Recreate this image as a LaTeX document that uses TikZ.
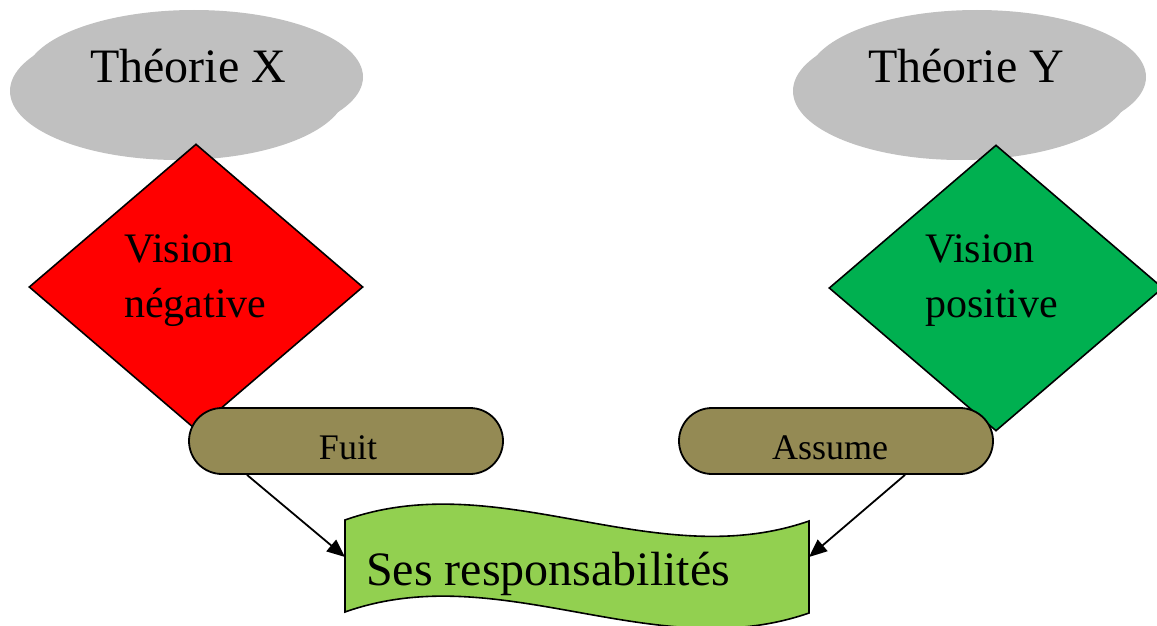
\documentclass[tikz,border=0pt]{standalone}
\usepackage{fontspec}
\setmainfont{Liberation Serif}
\usetikzlibrary{shapes.geometric,shapes.misc,arrows.meta,calc}
\definecolor{cloudgray}{HTML}{C0C0C0}
\definecolor{negred}{HTML}{FF0000}
\definecolor{posgreen}{HTML}{00B050}
\definecolor{pillolive}{HTML}{948A54}
\definecolor{bannergreen}{HTML}{92D050}
\begin{document}
\begin{tikzpicture}[x=1pt,y=-1pt,
  theory/.style={ellipse,fill=cloudgray,inner sep=0pt,minimum width=338pt,minimum height=134pt},
  theorytext/.style={anchor=base,font=\fontsize{48}{55}\selectfont},
  vision/.style={diamond,draw=black,line width=1.6pt,inner sep=0pt,minimum width=334pt,minimum height=286pt},
  visiontext/.style={anchor=base west,inner sep=0pt,font=\fontsize{42}{50}\selectfont},
  pill/.style={rounded rectangle,draw=black,line width=1.8pt,fill=pillolive,inner sep=0pt,minimum width=314pt,minimum height=66pt},
  pilltext/.style={anchor=base,inner sep=0pt,font=\fontsize{36}{40}\selectfont},
  arr/.style={line width=1.8pt,-{Triangle[length=18pt,width=15pt]}}]
\useasboundingbox (0,0) rectangle (1157,626);

% grey theory clouds: a main ellipse with an offset twin
\fill[cloudgray] (178,91) ellipse [x radius=168, y radius=69];
\node[theory] (thX) at (194,77) {};
\node[theorytext] (thXt) at (188,82) {Théorie X};
\fill[cloudgray] (961,91) ellipse [x radius=168, y radius=69];
\node[theory] (thY) at (977,77) {};
\node[theorytext] (thYt) at (966,82) {Théorie Y};

% vision diamonds
\node[vision,fill=negred] (visX) at (196,287) {};
\node[visiontext] (visX1) at (124,262) {Vision};
\node[visiontext] (visX2) at (124,317) {négative};
\node[vision,fill=posgreen] (visY) at (996,288) {};
\node[visiontext] (visY1) at (925,262) {Vision};
\node[visiontext] (visY2) at (925,317) {positive};

% attitude pills
\node[pill] (fuit) at (346,441) {};
\node[pilltext] (fuitt) at (348,459) {Fuit};
\node[pill] (assume) at (836,441) {};
\node[pilltext] (assumet) at (830,459) {Assume};

% connector ends on the banner sides
\coordinate (bannerL) at (345,557);
\coordinate (bannerR) at (809,557);
\draw[arr] ([xshift=-99pt]fuit.south) -- (bannerL);
\draw[arr] ([xshift=69pt]assume.south) -- (bannerR);

% wavy banner
\draw[line width=1.6pt,fill=bannergreen]
  (345,520) .. controls (500,465) and (654,575) .. (809,521)
  -- (809,613) .. controls (654,667) and (500,557) .. (345,612) -- cycle;
\node[anchor=base west,inner sep=0pt,font=\fontsize{48}{55}\selectfont] (resp) at (366,585) {Ses responsabilités};
\end{tikzpicture}
\end{document}
